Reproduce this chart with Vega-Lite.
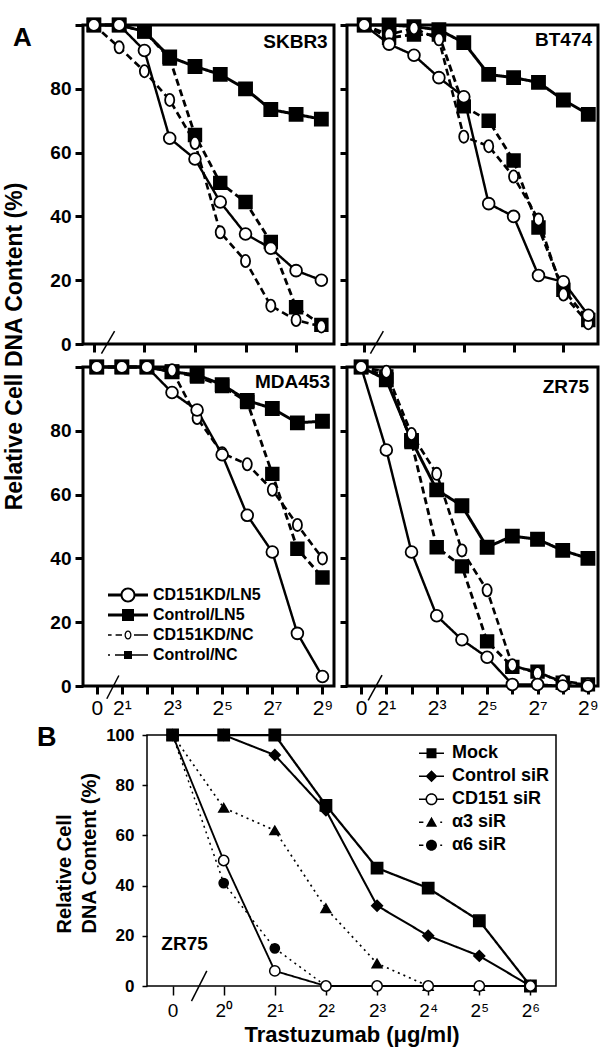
{
  "$schema": "https://vega.github.io/schema/vega-lite/v6.json",
  "autosize": {"type": "pad"},
  "padding": {"left": 2, "top": 13, "right": 5, "bottom": 5},
  "background": "white",
  "config": {
    "font": "Liberation Sans",
    "view": {"stroke": "black", "strokeWidth": 3},
    "axis": {"grid": false, "domain": false, "tickColor": "black", "labelColor": "black", "titleColor": "black", "labelFont": "Liberation Sans", "titleFont": "Liberation Sans"},
    "legend": {"labelFont": "Liberation Sans", "labelColor": "black", "padding": 0, "rowPadding": 0, "titlePadding": 0, "symbolStrokeWidth": 0, "symbolOpacity": 1}
  },
  "datasets": {
    "a": [
      {"cell": "SKBR3", "series": "Control/LN5", "i": 0, "pct": 100}, {"cell": "SKBR3", "series": "Control/LN5", "i": 1, "pct": 100}, {"cell": "SKBR3", "series": "Control/LN5", "i": 2, "pct": 98}, {"cell": "SKBR3", "series": "Control/LN5", "i": 3, "pct": 90}, {"cell": "SKBR3", "series": "Control/LN5", "i": 4, "pct": 87}, {"cell": "SKBR3", "series": "Control/LN5", "i": 5, "pct": 84.5}, {"cell": "SKBR3", "series": "Control/LN5", "i": 6, "pct": 80}, {"cell": "SKBR3", "series": "Control/LN5", "i": 7, "pct": 73.5}, {"cell": "SKBR3", "series": "Control/LN5", "i": 8, "pct": 72}, {"cell": "SKBR3", "series": "Control/LN5", "i": 9, "pct": 70.5},
      {"cell": "SKBR3", "series": "Control/NC", "i": 0, "pct": 100}, {"cell": "SKBR3", "series": "Control/NC", "i": 1, "pct": 100}, {"cell": "SKBR3", "series": "Control/NC", "i": 2, "pct": 98}, {"cell": "SKBR3", "series": "Control/NC", "i": 3, "pct": 89.5}, {"cell": "SKBR3", "series": "Control/NC", "i": 4, "pct": 65.5}, {"cell": "SKBR3", "series": "Control/NC", "i": 5, "pct": 50.5}, {"cell": "SKBR3", "series": "Control/NC", "i": 6, "pct": 44.5}, {"cell": "SKBR3", "series": "Control/NC", "i": 7, "pct": 32}, {"cell": "SKBR3", "series": "Control/NC", "i": 8, "pct": 11.5}, {"cell": "SKBR3", "series": "Control/NC", "i": 9, "pct": 6},
      {"cell": "SKBR3", "series": "CD151KD/NC", "i": 0, "pct": 100}, {"cell": "SKBR3", "series": "CD151KD/NC", "i": 1, "pct": 93}, {"cell": "SKBR3", "series": "CD151KD/NC", "i": 2, "pct": 85.5}, {"cell": "SKBR3", "series": "CD151KD/NC", "i": 3, "pct": 76.5}, {"cell": "SKBR3", "series": "CD151KD/NC", "i": 4, "pct": 63}, {"cell": "SKBR3", "series": "CD151KD/NC", "i": 5, "pct": 35}, {"cell": "SKBR3", "series": "CD151KD/NC", "i": 6, "pct": 26}, {"cell": "SKBR3", "series": "CD151KD/NC", "i": 7, "pct": 12}, {"cell": "SKBR3", "series": "CD151KD/NC", "i": 8, "pct": 7.5}, {"cell": "SKBR3", "series": "CD151KD/NC", "i": 9, "pct": 5.5},
      {"cell": "SKBR3", "series": "CD151KD/LN5", "i": 0, "pct": 100}, {"cell": "SKBR3", "series": "CD151KD/LN5", "i": 1, "pct": 100}, {"cell": "SKBR3", "series": "CD151KD/LN5", "i": 2, "pct": 92}, {"cell": "SKBR3", "series": "CD151KD/LN5", "i": 3, "pct": 64.5}, {"cell": "SKBR3", "series": "CD151KD/LN5", "i": 4, "pct": 58}, {"cell": "SKBR3", "series": "CD151KD/LN5", "i": 5, "pct": 44.5}, {"cell": "SKBR3", "series": "CD151KD/LN5", "i": 6, "pct": 34.5}, {"cell": "SKBR3", "series": "CD151KD/LN5", "i": 7, "pct": 30}, {"cell": "SKBR3", "series": "CD151KD/LN5", "i": 8, "pct": 23}, {"cell": "SKBR3", "series": "CD151KD/LN5", "i": 9, "pct": 20},

      {"cell": "BT474", "series": "Control/LN5", "i": 0, "pct": 100}, {"cell": "BT474", "series": "Control/LN5", "i": 1, "pct": 100}, {"cell": "BT474", "series": "Control/LN5", "i": 2, "pct": 99.5}, {"cell": "BT474", "series": "Control/LN5", "i": 3, "pct": 98.5}, {"cell": "BT474", "series": "Control/LN5", "i": 4, "pct": 94.5}, {"cell": "BT474", "series": "Control/LN5", "i": 5, "pct": 84.5}, {"cell": "BT474", "series": "Control/LN5", "i": 6, "pct": 83.5}, {"cell": "BT474", "series": "Control/LN5", "i": 7, "pct": 82}, {"cell": "BT474", "series": "Control/LN5", "i": 8, "pct": 76.5}, {"cell": "BT474", "series": "Control/LN5", "i": 9, "pct": 72},
      {"cell": "BT474", "series": "Control/NC", "i": 0, "pct": 100}, {"cell": "BT474", "series": "Control/NC", "i": 1, "pct": 96}, {"cell": "BT474", "series": "Control/NC", "i": 2, "pct": 97}, {"cell": "BT474", "series": "Control/NC", "i": 3, "pct": 97}, {"cell": "BT474", "series": "Control/NC", "i": 4, "pct": 74.5}, {"cell": "BT474", "series": "Control/NC", "i": 5, "pct": 70}, {"cell": "BT474", "series": "Control/NC", "i": 6, "pct": 57.5}, {"cell": "BT474", "series": "Control/NC", "i": 7, "pct": 36.5}, {"cell": "BT474", "series": "Control/NC", "i": 8, "pct": 17}, {"cell": "BT474", "series": "Control/NC", "i": 9, "pct": 7.5},
      {"cell": "BT474", "series": "CD151KD/NC", "i": 0, "pct": 100}, {"cell": "BT474", "series": "CD151KD/NC", "i": 1, "pct": 97}, {"cell": "BT474", "series": "CD151KD/NC", "i": 2, "pct": 99}, {"cell": "BT474", "series": "CD151KD/NC", "i": 3, "pct": 95.5}, {"cell": "BT474", "series": "CD151KD/NC", "i": 4, "pct": 65}, {"cell": "BT474", "series": "CD151KD/NC", "i": 5, "pct": 62}, {"cell": "BT474", "series": "CD151KD/NC", "i": 6, "pct": 52.5}, {"cell": "BT474", "series": "CD151KD/NC", "i": 7, "pct": 39}, {"cell": "BT474", "series": "CD151KD/NC", "i": 8, "pct": 15.5}, {"cell": "BT474", "series": "CD151KD/NC", "i": 9, "pct": 6.5},
      {"cell": "BT474", "series": "CD151KD/LN5", "i": 0, "pct": 100}, {"cell": "BT474", "series": "CD151KD/LN5", "i": 1, "pct": 94}, {"cell": "BT474", "series": "CD151KD/LN5", "i": 2, "pct": 90.5}, {"cell": "BT474", "series": "CD151KD/LN5", "i": 3, "pct": 83.5}, {"cell": "BT474", "series": "CD151KD/LN5", "i": 4, "pct": 77.5}, {"cell": "BT474", "series": "CD151KD/LN5", "i": 5, "pct": 44}, {"cell": "BT474", "series": "CD151KD/LN5", "i": 6, "pct": 40}, {"cell": "BT474", "series": "CD151KD/LN5", "i": 7, "pct": 21.5}, {"cell": "BT474", "series": "CD151KD/LN5", "i": 8, "pct": 19.5}, {"cell": "BT474", "series": "CD151KD/LN5", "i": 9, "pct": 9},

      {"cell": "MDA453", "series": "Control/LN5", "i": 0, "pct": 100}, {"cell": "MDA453", "series": "Control/LN5", "i": 1, "pct": 100}, {"cell": "MDA453", "series": "Control/LN5", "i": 2, "pct": 100}, {"cell": "MDA453", "series": "Control/LN5", "i": 3, "pct": 98.5}, {"cell": "MDA453", "series": "Control/LN5", "i": 4, "pct": 97.5}, {"cell": "MDA453", "series": "Control/LN5", "i": 5, "pct": 94.5}, {"cell": "MDA453", "series": "Control/LN5", "i": 6, "pct": 89.5}, {"cell": "MDA453", "series": "Control/LN5", "i": 7, "pct": 87}, {"cell": "MDA453", "series": "Control/LN5", "i": 8, "pct": 82.5}, {"cell": "MDA453", "series": "Control/LN5", "i": 9, "pct": 83},
      {"cell": "MDA453", "series": "Control/NC", "i": 0, "pct": 100}, {"cell": "MDA453", "series": "Control/NC", "i": 1, "pct": 100}, {"cell": "MDA453", "series": "Control/NC", "i": 2, "pct": 100}, {"cell": "MDA453", "series": "Control/NC", "i": 3, "pct": 98.5}, {"cell": "MDA453", "series": "Control/NC", "i": 4, "pct": 97}, {"cell": "MDA453", "series": "Control/NC", "i": 5, "pct": 94}, {"cell": "MDA453", "series": "Control/NC", "i": 6, "pct": 89}, {"cell": "MDA453", "series": "Control/NC", "i": 7, "pct": 66.5}, {"cell": "MDA453", "series": "Control/NC", "i": 8, "pct": 43}, {"cell": "MDA453", "series": "Control/NC", "i": 9, "pct": 34},
      {"cell": "MDA453", "series": "CD151KD/NC", "i": 0, "pct": 100}, {"cell": "MDA453", "series": "CD151KD/NC", "i": 1, "pct": 100}, {"cell": "MDA453", "series": "CD151KD/NC", "i": 2, "pct": 100}, {"cell": "MDA453", "series": "CD151KD/NC", "i": 3, "pct": 99}, {"cell": "MDA453", "series": "CD151KD/NC", "i": 4, "pct": 84}, {"cell": "MDA453", "series": "CD151KD/NC", "i": 5, "pct": 73}, {"cell": "MDA453", "series": "CD151KD/NC", "i": 6, "pct": 69.5}, {"cell": "MDA453", "series": "CD151KD/NC", "i": 7, "pct": 61.5}, {"cell": "MDA453", "series": "CD151KD/NC", "i": 8, "pct": 50.5}, {"cell": "MDA453", "series": "CD151KD/NC", "i": 9, "pct": 40},
      {"cell": "MDA453", "series": "CD151KD/LN5", "i": 0, "pct": 100}, {"cell": "MDA453", "series": "CD151KD/LN5", "i": 1, "pct": 100}, {"cell": "MDA453", "series": "CD151KD/LN5", "i": 2, "pct": 100}, {"cell": "MDA453", "series": "CD151KD/LN5", "i": 3, "pct": 92}, {"cell": "MDA453", "series": "CD151KD/LN5", "i": 4, "pct": 86.5}, {"cell": "MDA453", "series": "CD151KD/LN5", "i": 5, "pct": 72.5}, {"cell": "MDA453", "series": "CD151KD/LN5", "i": 6, "pct": 53.5}, {"cell": "MDA453", "series": "CD151KD/LN5", "i": 7, "pct": 42}, {"cell": "MDA453", "series": "CD151KD/LN5", "i": 8, "pct": 16.5}, {"cell": "MDA453", "series": "CD151KD/LN5", "i": 9, "pct": 3},

      {"cell": "ZR75", "series": "Control/LN5", "i": 0, "pct": 100}, {"cell": "ZR75", "series": "Control/LN5", "i": 1, "pct": 96}, {"cell": "ZR75", "series": "Control/LN5", "i": 2, "pct": 77}, {"cell": "ZR75", "series": "Control/LN5", "i": 3, "pct": 61.5}, {"cell": "ZR75", "series": "Control/LN5", "i": 4, "pct": 56.5}, {"cell": "ZR75", "series": "Control/LN5", "i": 5, "pct": 43.5}, {"cell": "ZR75", "series": "Control/LN5", "i": 6, "pct": 47}, {"cell": "ZR75", "series": "Control/LN5", "i": 7, "pct": 46}, {"cell": "ZR75", "series": "Control/LN5", "i": 8, "pct": 42.5}, {"cell": "ZR75", "series": "Control/LN5", "i": 9, "pct": 40},
      {"cell": "ZR75", "series": "Control/NC", "i": 0, "pct": 100}, {"cell": "ZR75", "series": "Control/NC", "i": 1, "pct": 97}, {"cell": "ZR75", "series": "Control/NC", "i": 2, "pct": 76.5}, {"cell": "ZR75", "series": "Control/NC", "i": 3, "pct": 43.5}, {"cell": "ZR75", "series": "Control/NC", "i": 4, "pct": 37.5}, {"cell": "ZR75", "series": "Control/NC", "i": 5, "pct": 14}, {"cell": "ZR75", "series": "Control/NC", "i": 6, "pct": 6}, {"cell": "ZR75", "series": "Control/NC", "i": 7, "pct": 4.5}, {"cell": "ZR75", "series": "Control/NC", "i": 8, "pct": 1}, {"cell": "ZR75", "series": "Control/NC", "i": 9, "pct": 0.5},
      {"cell": "ZR75", "series": "CD151KD/NC", "i": 0, "pct": 100}, {"cell": "ZR75", "series": "CD151KD/NC", "i": 1, "pct": 98.5}, {"cell": "ZR75", "series": "CD151KD/NC", "i": 2, "pct": 79}, {"cell": "ZR75", "series": "CD151KD/NC", "i": 3, "pct": 66.5}, {"cell": "ZR75", "series": "CD151KD/NC", "i": 4, "pct": 42.5}, {"cell": "ZR75", "series": "CD151KD/NC", "i": 5, "pct": 30}, {"cell": "ZR75", "series": "CD151KD/NC", "i": 6, "pct": 6.5}, {"cell": "ZR75", "series": "CD151KD/NC", "i": 7, "pct": 4}, {"cell": "ZR75", "series": "CD151KD/NC", "i": 8, "pct": 1.5}, {"cell": "ZR75", "series": "CD151KD/NC", "i": 9, "pct": 0.5},
      {"cell": "ZR75", "series": "CD151KD/LN5", "i": 0, "pct": 100}, {"cell": "ZR75", "series": "CD151KD/LN5", "i": 1, "pct": 74}, {"cell": "ZR75", "series": "CD151KD/LN5", "i": 2, "pct": 42}, {"cell": "ZR75", "series": "CD151KD/LN5", "i": 3, "pct": 22}, {"cell": "ZR75", "series": "CD151KD/LN5", "i": 4, "pct": 14.5}, {"cell": "ZR75", "series": "CD151KD/LN5", "i": 5, "pct": 9}, {"cell": "ZR75", "series": "CD151KD/LN5", "i": 6, "pct": 0.5}, {"cell": "ZR75", "series": "CD151KD/LN5", "i": 7, "pct": 0.5}, {"cell": "ZR75", "series": "CD151KD/LN5", "i": 8, "pct": 0}, {"cell": "ZR75", "series": "CD151KD/LN5", "i": 9, "pct": 0}
    ],
    "b": [
      {"series": "Mock", "i": 0, "pct": 100}, {"series": "Mock", "i": 1, "pct": 100}, {"series": "Mock", "i": 2, "pct": 100}, {"series": "Mock", "i": 3, "pct": 72}, {"series": "Mock", "i": 4, "pct": 47}, {"series": "Mock", "i": 5, "pct": 39}, {"series": "Mock", "i": 6, "pct": 26}, {"series": "Mock", "i": 7, "pct": 0},
      {"series": "Control siR", "i": 0, "pct": 100}, {"series": "Control siR", "i": 1, "pct": 100}, {"series": "Control siR", "i": 2, "pct": 92}, {"series": "Control siR", "i": 3, "pct": 70}, {"series": "Control siR", "i": 4, "pct": 32}, {"series": "Control siR", "i": 5, "pct": 20}, {"series": "Control siR", "i": 6, "pct": 12}, {"series": "Control siR", "i": 7, "pct": 0},
      {"series": "α3 siR", "i": 0, "pct": 100}, {"series": "α3 siR", "i": 1, "pct": 71}, {"series": "α3 siR", "i": 2, "pct": 62}, {"series": "α3 siR", "i": 3, "pct": 31}, {"series": "α3 siR", "i": 4, "pct": 9}, {"series": "α3 siR", "i": 5, "pct": 0}, {"series": "α3 siR", "i": 6, "pct": 0}, {"series": "α3 siR", "i": 7, "pct": 0},
      {"series": "α6 siR", "i": 3, "pct": 0},
      {"series": "CD151 siR", "i": 0, "pct": 100}, {"series": "CD151 siR", "i": 1, "pct": 50}, {"series": "CD151 siR", "i": 2, "pct": 6}, {"series": "CD151 siR", "i": 3, "pct": 0}, {"series": "CD151 siR", "i": 4, "pct": 0}, {"series": "CD151 siR", "i": 5, "pct": 0}, {"series": "CD151 siR", "i": 6, "pct": 0}, {"series": "CD151 siR", "i": 7, "pct": 0},
      {"series": "α6 siR", "i": 0, "pct": 100}, {"series": "α6 siR", "i": 1, "pct": 41}, {"series": "α6 siR", "i": 2, "pct": 15}
    ]
  },
  "spacing": 3,
  "resolve": {"scale": {"shape": "independent"}, "legend": {"shape": "independent"}},
  "vconcat": [
    {
      "columns": 2,
      "bounds": "flush",
      "spacing": {"row": 23, "column": 13},
      "resolve": {"scale": {"shape": "independent"}, "legend": {"shape": "independent"}},
      "concat": [
        {
          "width": 251, "height": 319,
          "layer": [
            {"data": {"name": "a"}, "transform": [{"filter": "datum.cell === 'SKBR3'"}],
             "mark": {"type": "line", "color": "black", "clip": false},
             "encoding": {
               "x": {"field": "i", "type": "quantitative", "scale": {"domain": [-0.43, 9.5], "nice": false, "zero": false},
                     "axis": {"values": [0,1,2,3,4,5,6,7,8,9], "tickSize": 8, "tickWidth": 3, "labels": false, "title": null}},
               "y": {"field": "pct", "type": "quantitative", "scale": {"domain": [0, 100], "nice": false},
                     "axis": {"values": [0,10,20,30,40,50,60,70,80,90,100], "tickSize": 8, "tickWidth": 3, "labelExpr": "datum.value % 20 === 0 && datum.value < 100 ? datum.value : ''", "labelFontSize": 19, "labelFontWeight": "bold", "labelPadding": 4,
                              "title": "Relative Cell DNA Content (%)", "titleFontSize": 23, "titleFontWeight": "bold", "titleAlign": "center", "titleY": 321, "titlePadding": 23}},
               "strokeDash": {"field": "series", "type": "nominal", "legend": null, "scale": {"domain": ["Control/LN5","Control/NC","CD151KD/NC","CD151KD/LN5","Mock","Control siR","CD151 siR","α3 siR","α6 siR"], "range": [[1,0],[7,4],[7,4],[1,0],[1,0],[1,0],[1,0],[2,4],[2,4]]}},
               "strokeWidth": {"field": "series", "type": "nominal", "legend": null, "scale": {"domain": ["Control/LN5","Control/NC","CD151KD/NC","CD151KD/LN5","Mock","Control siR","CD151 siR","α3 siR","α6 siR"], "range": [3,1.5,1.5,3,1.5,1.5,1.5,2,2]}}
             }},
            {"data": {"name": "a"}, "transform": [{"filter": "datum.cell === 'SKBR3'"}],
             "mark": {"type": "point", "filled": true, "opacity": 1, "stroke": "black", "strokeWidth": 1.8, "clip": false},
             "encoding": {
               "x": {"field": "i", "type": "quantitative"},
               "y": {"field": "pct", "type": "quantitative"},
               "shape": {"field": "series", "type": "nominal", "legend": null, "scale": {"domain": ["Control/LN5","Control/NC","CD151KD/NC","CD151KD/LN5","Mock","Control siR","CD151 siR","α3 siR","α6 siR"], "range": ["square","square","M0.75,0A0.75,1 0 1,1 -0.75,0A0.75,1 0 1,1 0.75,0Z","circle","square","diamond","circle","triangle-up","circle"]}},
               "fill": {"field": "series", "type": "nominal", "legend": null, "scale": {"domain": ["Control/LN5","Control/NC","CD151KD/NC","CD151KD/LN5","Mock","Control siR","CD151 siR","α3 siR","α6 siR"], "range": ["black","black","white","white","black","black","white","black","black"]}},
               "size": {"field": "series", "type": "nominal", "legend": null, "scale": {"domain": ["Control/LN5","Control/NC","CD151KD/NC","CD151KD/LN5","Mock","Control siR","CD151 siR","α3 siR","α6 siR"], "range": [170,85,81,256,121,150,150,170,140]}}
             }},
            {"data": {"values": [{}]}, "mark": {"type": "rule", "color": "black", "strokeWidth": 1.5, "clip": false},
             "encoding": {"x": {"datum": 0.3}, "x2": {"datum": 0.82}, "y": {"datum": -3}, "y2": {"datum": 4}}},
            {"data": {"values": [{"label": "SKBR3"}]}, "mark": {"type": "text", "align": "right", "baseline": "alphabetic", "fontSize": 19, "fontWeight": "bold", "font": "Liberation Sans", "color": "black"},
             "encoding": {"x": {"datum": 9.25}, "y": {"datum": 92.8}, "text": {"field": "label"}}},
            {"data": {"values": [{"label": "A"}]}, "mark": {"type": "text", "align": "left", "baseline": "alphabetic", "fontSize": 26, "fontWeight": "bold", "font": "Liberation Sans", "color": "black", "clip": false},
             "encoding": {"x": {"datum": -3.2}, "y": {"datum": 93.3}, "text": {"field": "label"}}}
          ]
        },
        {
          "width": 251, "height": 319,
          "layer": [
            {"data": {"name": "a"}, "transform": [{"filter": "datum.cell === 'BT474'"}],
             "mark": {"type": "line", "color": "black", "clip": false},
             "encoding": {
               "x": {"field": "i", "type": "quantitative", "scale": {"domain": [-0.69, 9.39], "nice": false, "zero": false},
                     "axis": {"values": [0,1,2,3,4,5,6,7,8,9], "tickSize": 8, "tickWidth": 3, "labels": false, "title": null}},
               "y": {"field": "pct", "type": "quantitative", "scale": {"domain": [0, 100], "nice": false},
                     "axis": {"values": [0,10,20,30,40,50,60,70,80,90,100], "tickSize": 7, "tickWidth": 3, "labels": false, "title": null}},
               "strokeDash": {"field": "series", "type": "nominal", "legend": null, "scale": {"domain": ["Control/LN5","Control/NC","CD151KD/NC","CD151KD/LN5","Mock","Control siR","CD151 siR","α3 siR","α6 siR"], "range": [[1,0],[7,4],[7,4],[1,0],[1,0],[1,0],[1,0],[2,4],[2,4]]}},
               "strokeWidth": {"field": "series", "type": "nominal", "legend": null, "scale": {"domain": ["Control/LN5","Control/NC","CD151KD/NC","CD151KD/LN5","Mock","Control siR","CD151 siR","α3 siR","α6 siR"], "range": [3,1.5,1.5,3,1.5,1.5,1.5,2,2]}}
             }},
            {"data": {"name": "a"}, "transform": [{"filter": "datum.cell === 'BT474'"}],
             "mark": {"type": "point", "filled": true, "opacity": 1, "stroke": "black", "strokeWidth": 1.8, "clip": false},
             "encoding": {
               "x": {"field": "i", "type": "quantitative"},
               "y": {"field": "pct", "type": "quantitative"},
               "shape": {"field": "series", "type": "nominal", "legend": null, "scale": {"domain": ["Control/LN5","Control/NC","CD151KD/NC","CD151KD/LN5","Mock","Control siR","CD151 siR","α3 siR","α6 siR"], "range": ["square","square","M0.75,0A0.75,1 0 1,1 -0.75,0A0.75,1 0 1,1 0.75,0Z","circle","square","diamond","circle","triangle-up","circle"]}},
               "fill": {"field": "series", "type": "nominal", "legend": null, "scale": {"domain": ["Control/LN5","Control/NC","CD151KD/NC","CD151KD/LN5","Mock","Control siR","CD151 siR","α3 siR","α6 siR"], "range": ["black","black","white","white","black","black","white","black","black"]}},
               "size": {"field": "series", "type": "nominal", "legend": null, "scale": {"domain": ["Control/LN5","Control/NC","CD151KD/NC","CD151KD/LN5","Mock","Control siR","CD151 siR","α3 siR","α6 siR"], "range": [170,85,81,256,121,150,150,170,140]}}
             }},
            {"data": {"values": [{}]}, "mark": {"type": "rule", "color": "black", "strokeWidth": 1.5, "clip": false},
             "encoding": {"x": {"datum": 0.25}, "x2": {"datum": 0.77}, "y": {"datum": -3}, "y2": {"datum": 4}}},
            {"data": {"values": [{"label": "BT474"}]}, "mark": {"type": "text", "align": "right", "baseline": "alphabetic", "fontSize": 19, "fontWeight": "bold", "font": "Liberation Sans", "color": "black"},
             "encoding": {"x": {"datum": 9.15}, "y": {"datum": 93.3}, "text": {"field": "label"}}}
          ]
        },
        {
          "width": 251, "height": 319,
          "resolve": {"axis": {"x": "independent"}, "scale": {"shape": "independent"}, "legend": {"shape": "independent"}},
          "layer": [
            {"data": {"name": "a"}, "transform": [{"filter": "datum.cell === 'MDA453'"}],
             "mark": {"type": "line", "color": "black", "clip": false},
             "encoding": {
               "x": {"field": "i", "type": "quantitative", "scale": {"domain": [-0.55, 9.46], "nice": false, "zero": false},
                     "axis": {"values": [0,1,3,5,7,9], "tickSize": 8, "tickWidth": 3, "labelExpr": "['0','2¹','2²','2³','2⁴','2⁵','2⁶','2⁷','2⁸','2⁹'][datum.value]", "labelFontSize": 21, "labelFontWeight": "normal", "labelPadding": 3, "labelFlush": false, "labelOverlap": false, "labelBound": false, "title": null}},
               "y": {"field": "pct", "type": "quantitative", "scale": {"domain": [0, 100], "nice": false},
                     "axis": {"values": [0,10,20,30,40,50,60,70,80,90,100], "tickSize": 8, "tickWidth": 3, "labelExpr": "datum.value % 20 === 0 && datum.value < 100 ? datum.value : ''", "labelFontSize": 19, "labelFontWeight": "bold", "labelPadding": 4, "title": null}},
               "strokeDash": {"field": "series", "type": "nominal", "legend": null, "scale": {"domain": ["Control/LN5","Control/NC","CD151KD/NC","CD151KD/LN5","Mock","Control siR","CD151 siR","α3 siR","α6 siR"], "range": [[1,0],[7,4],[7,4],[1,0],[1,0],[1,0],[1,0],[2,4],[2,4]]}},
               "strokeWidth": {"field": "series", "type": "nominal", "legend": null, "scale": {"domain": ["Control/LN5","Control/NC","CD151KD/NC","CD151KD/LN5","Mock","Control siR","CD151 siR","α3 siR","α6 siR"], "range": [3,1.5,1.5,3,1.5,1.5,1.5,2,2]}}
             }},
            {"data": {"name": "a"}, "transform": [{"filter": "datum.cell === 'MDA453'"}],
             "mark": {"type": "point", "filled": true, "opacity": 1, "stroke": "black", "strokeWidth": 1.8, "clip": false},
             "encoding": {
               "x": {"field": "i", "type": "quantitative", "axis": null},
               "y": {"field": "pct", "type": "quantitative"},
               "shape": {"field": "series", "type": "nominal", "legend": null, "scale": {"domain": ["Control/LN5","Control/NC","CD151KD/NC","CD151KD/LN5","Mock","Control siR","CD151 siR","α3 siR","α6 siR"], "range": ["square","square","M0.75,0A0.75,1 0 1,1 -0.75,0A0.75,1 0 1,1 0.75,0Z","circle","square","diamond","circle","triangle-up","circle"]}},
               "fill": {"field": "series", "type": "nominal", "legend": null, "scale": {"domain": ["Control/LN5","Control/NC","CD151KD/NC","CD151KD/LN5","Mock","Control siR","CD151 siR","α3 siR","α6 siR"], "range": ["black","black","white","white","black","black","white","black","black"]}},
               "size": {"field": "series", "type": "nominal", "legend": null, "scale": {"domain": ["Control/LN5","Control/NC","CD151KD/NC","CD151KD/LN5","Mock","Control siR","CD151 siR","α3 siR","α6 siR"], "range": [170,85,81,256,121,150,150,170,140]}}
             }},
            {"data": {"values": [{}]}, "mark": {"type": "rule", "color": "black", "strokeWidth": 1.5, "clip": false},
             "encoding": {"x": {"datum": 0.4, "axis": {"orient": "bottom", "values": [2,4,6,8], "tickSize": 8, "tickWidth": 3, "labels": false, "title": null}}, "x2": {"datum": 0.88}, "y": {"datum": -4}, "y2": {"datum": 3.3}}},
            {"data": {"values": [{"label": "MDA453"}]}, "mark": {"type": "text", "align": "right", "baseline": "alphabetic", "fontSize": 19, "fontWeight": "bold", "font": "Liberation Sans", "color": "black"},
             "encoding": {"x": {"datum": 9.3, "axis": null}, "y": {"datum": 93.3}, "text": {"field": "label"}}},
            {"data": {"values": []},
             "mark": {"type": "point", "filled": true, "color": "black", "opacity": 1, "strokeWidth": 0},
             "encoding": {
               "x": {"field": "i", "type": "quantitative", "axis": null},
               "y": {"field": "pct", "type": "quantitative"},
               "shape": {"field": "series", "type": "nominal",
                         "scale": {"domain": ["CD151KD/LN5","Control/LN5","CD151KD/NC","Control/NC"],
                                   "range": [
                                     "M-1,-0.075H-0.36V0.075H-1Z M0.36,-0.075H1V0.075H0.36Z M0.375,0A0.375,0.375 0 1,1 -0.375,0A0.375,0.375 0 1,1 0.375,0Z M0.275,0A0.275,0.275 0 1,0 -0.275,0A0.275,0.275 0 1,0 0.275,0Z",
                                     "M-1,-0.075H1V0.075H-1Z M-0.3,-0.3H0.3V0.3H-0.3Z",
                                     "M-1,-0.0375H-0.82V0.0375H-1Z M-0.62,-0.0375H-0.3V0.0375H-0.62Z M0.3,-0.0375H1V0.0375H0.3Z M0.175,0A0.175,0.225 0 1,1 -0.175,0A0.175,0.225 0 1,1 0.175,0Z M0.11,0A0.11,0.16 0 1,0 -0.11,0A0.11,0.16 0 1,0 0.11,0Z",
                                     "M-1,-0.0375H-0.9V0.0375H-1Z M-0.65,-0.0375H-0.2V0.0375H-0.65Z M-0.2,-0.2H0.2V0.2H-0.2Z M0.2,-0.0375H1V0.0375H0.2Z"
                                   ]},
                         "legend": {"orient": "none", "legendX": 25, "legendY": 218, "title": null,
                                    "symbolSize": 1600, "clipHeight": 20, "rowPadding": 0, "padding": 0,
                                    "symbolStrokeWidth": 0, "symbolFillColor": "black", "symbolOpacity": 1,
                                    "labelFontSize": 16, "labelFontWeight": "bold", "labelOffset": 5, "labelColor": "black"}}
             }}
          ]
        },
        {
          "width": 251, "height": 319,
          "resolve": {"axis": {"x": "independent"}},
          "layer": [
            {"data": {"name": "a"}, "transform": [{"filter": "datum.cell === 'ZR75'"}],
             "mark": {"type": "line", "color": "black", "clip": false},
             "encoding": {
               "x": {"field": "i", "type": "quantitative", "scale": {"domain": [-0.56, 9.4], "nice": false, "zero": false},
                     "axis": {"values": [0,1,3,5,7,9], "tickSize": 8, "tickWidth": 3, "labelExpr": "['0','2¹','2²','2³','2⁴','2⁵','2⁶','2⁷','2⁸','2⁹'][datum.value]", "labelFontSize": 21, "labelFontWeight": "normal", "labelPadding": 3, "labelFlush": false, "labelOverlap": false, "labelBound": false, "title": null}},
               "y": {"field": "pct", "type": "quantitative", "scale": {"domain": [0, 100], "nice": false},
                     "axis": {"values": [0,10,20,30,40,50,60,70,80,90,100], "tickSize": 7, "tickWidth": 3, "labels": false, "title": null}},
               "strokeDash": {"field": "series", "type": "nominal", "legend": null, "scale": {"domain": ["Control/LN5","Control/NC","CD151KD/NC","CD151KD/LN5","Mock","Control siR","CD151 siR","α3 siR","α6 siR"], "range": [[1,0],[7,4],[7,4],[1,0],[1,0],[1,0],[1,0],[2,4],[2,4]]}},
               "strokeWidth": {"field": "series", "type": "nominal", "legend": null, "scale": {"domain": ["Control/LN5","Control/NC","CD151KD/NC","CD151KD/LN5","Mock","Control siR","CD151 siR","α3 siR","α6 siR"], "range": [3,1.5,1.5,3,1.5,1.5,1.5,2,2]}}
             }},
            {"data": {"name": "a"}, "transform": [{"filter": "datum.cell === 'ZR75'"}],
             "mark": {"type": "point", "filled": true, "opacity": 1, "stroke": "black", "strokeWidth": 1.8, "clip": false},
             "encoding": {
               "x": {"field": "i", "type": "quantitative", "axis": null},
               "y": {"field": "pct", "type": "quantitative"},
               "shape": {"field": "series", "type": "nominal", "legend": null, "scale": {"domain": ["Control/LN5","Control/NC","CD151KD/NC","CD151KD/LN5","Mock","Control siR","CD151 siR","α3 siR","α6 siR"], "range": ["square","square","M0.75,0A0.75,1 0 1,1 -0.75,0A0.75,1 0 1,1 0.75,0Z","circle","square","diamond","circle","triangle-up","circle"]}},
               "fill": {"field": "series", "type": "nominal", "legend": null, "scale": {"domain": ["Control/LN5","Control/NC","CD151KD/NC","CD151KD/LN5","Mock","Control siR","CD151 siR","α3 siR","α6 siR"], "range": ["black","black","white","white","black","black","white","black","black"]}},
               "size": {"field": "series", "type": "nominal", "legend": null, "scale": {"domain": ["Control/LN5","Control/NC","CD151KD/NC","CD151KD/LN5","Mock","Control siR","CD151 siR","α3 siR","α6 siR"], "range": [170,85,81,256,121,150,150,170,140]}}
             }},
            {"data": {"values": [{}]}, "mark": {"type": "rule", "color": "black", "strokeWidth": 1.5, "clip": false},
             "encoding": {"x": {"datum": 0.28, "axis": {"orient": "bottom", "values": [2,4,6,8], "tickSize": 8, "tickWidth": 3, "labels": false, "title": null}}, "x2": {"datum": 0.83}, "y": {"datum": -4.5}, "y2": {"datum": 3.4}}},
            {"data": {"values": [{"label": "ZR75"}]}, "mark": {"type": "text", "align": "right", "baseline": "alphabetic", "fontSize": 19, "fontWeight": "bold", "font": "Liberation Sans", "color": "black"},
             "encoding": {"x": {"datum": 9.05, "axis": null}, "y": {"datum": 91.8}, "text": {"field": "label"}}}
          ]
        }
      ]
    },
    {
      "bounds": "flush",
      "spacing": 10,
      "resolve": {"scale": {"shape": "independent"}, "legend": {"shape": "independent"}},
      "hconcat": [
        {"width": 54, "height": 251, "data": {"values": []}, "mark": {"type": "point"}, "view": {"stroke": null}},
        {
          "width": 409, "height": 251,
          "view": {"stroke": "black", "strokeWidth": 1.5},
          "resolve": {"scale": {"shape": "independent"}, "legend": {"shape": "independent"}},
          "layer": [
            {"data": {"name": "b"},
             "mark": {"type": "line", "color": "black", "clip": false},
             "encoding": {
               "x": {"field": "i", "type": "quantitative", "scale": {"domain": [-0.5, 7.5], "nice": false, "zero": false},
                     "axis": {"values": [0,1,2,3,4,5,6,7], "tickSize": 9, "tickWidth": 1.5, "labelExpr": "['0','2⁰','2¹','2²','2³','2⁴','2⁵','2⁶'][datum.value]", "labelFontSize": 19, "labelFontWeight": "normal", "labelPadding": 6, "labelFlush": false, "labelOverlap": false,
                              "title": "Trastuzumab (μg/ml)", "titleFontSize": 22, "titleFontWeight": "bold", "titlePadding": 4}},
               "y": {"field": "pct", "type": "quantitative", "scale": {"domain": [0, 100], "nice": false},
                     "axis": {"values": [0,20,40,60,80,100], "tickSize": 5, "tickWidth": 1.5, "labelFontSize": 17, "labelFontWeight": "bold", "labelPadding": 8,
                              "title": ["Relative Cell", "DNA Content (%)"], "titleFontSize": 20, "titleFontWeight": "bold", "titleLineHeight": 25, "titlePadding": 6, "titleAlign": "left", "titleY": 198}},
               "strokeDash": {"field": "series", "type": "nominal", "legend": null, "scale": {"domain": ["Control/LN5","Control/NC","CD151KD/NC","CD151KD/LN5","Mock","Control siR","CD151 siR","α3 siR","α6 siR"], "range": [[1,0],[7,4],[7,4],[1,0],[1,0],[1,0],[1,0],[2,4],[2,4]]}},
               "strokeWidth": {"field": "series", "type": "nominal", "legend": null, "scale": {"domain": ["Control/LN5","Control/NC","CD151KD/NC","CD151KD/LN5","Mock","Control siR","CD151 siR","α3 siR","α6 siR"], "range": [3,1.5,1.5,3,1.5,1.5,1.5,2,2]}}
             }},
            {"data": {"name": "b"},
             "mark": {"type": "point", "filled": true, "opacity": 1, "stroke": "black", "strokeWidth": 1.5, "clip": false},
             "encoding": {
               "x": {"field": "i", "type": "quantitative"},
               "y": {"field": "pct", "type": "quantitative"},
               "shape": {"field": "series", "type": "nominal", "legend": null, "scale": {"domain": ["Control/LN5","Control/NC","CD151KD/NC","CD151KD/LN5","Mock","Control siR","CD151 siR","α3 siR","α6 siR"], "range": ["square","square","M0.75,0A0.75,1 0 1,1 -0.75,0A0.75,1 0 1,1 0.75,0Z","circle","square","diamond","circle","triangle-up","circle"]}},
               "fill": {"field": "series", "type": "nominal", "legend": null, "scale": {"domain": ["Control/LN5","Control/NC","CD151KD/NC","CD151KD/LN5","Mock","Control siR","CD151 siR","α3 siR","α6 siR"], "range": ["black","black","white","white","black","black","white","black","black"]}},
               "size": {"field": "series", "type": "nominal", "legend": null, "scale": {"domain": ["Control/LN5","Control/NC","CD151KD/NC","CD151KD/LN5","Mock","Control siR","CD151 siR","α3 siR","α6 siR"], "range": [170,85,81,256,121,150,150,170,140]}}
             }},
            {"data": {"values": [{}]}, "mark": {"type": "rule", "color": "black", "strokeWidth": 1.5, "clip": false},
             "encoding": {"x": {"datum": 0.37}, "x2": {"datum": 0.67}, "y": {"datum": -6}, "y2": {"datum": 6}}},
            {"data": {"values": [{"label": "ZR75"}]}, "mark": {"type": "text", "align": "left", "baseline": "alphabetic", "fontSize": 19, "fontWeight": "bold", "font": "Liberation Sans", "color": "black"},
             "encoding": {"x": {"datum": -0.22}, "y": {"datum": 14.3}, "text": {"field": "label"}}},
            {"data": {"values": [{"label": "B"}]}, "mark": {"type": "text", "align": "left", "baseline": "alphabetic", "fontSize": 27, "fontWeight": "bold", "font": "Liberation Sans", "color": "black", "clip": false},
             "encoding": {"x": {"datum": -2.65}, "y": {"datum": 95.5}, "text": {"field": "label"}}},
            {"data": {"values": []},
             "mark": {"type": "point", "filled": true, "color": "black", "opacity": 1, "strokeWidth": 0},
             "encoding": {
               "x": {"field": "i", "type": "quantitative"},
               "y": {"field": "pct", "type": "quantitative"},
               "shape": {"field": "series", "type": "nominal",
                         "scale": {"domain": ["Mock","Control siR","CD151 siR","α3 siR","α6 siR"],
                                   "range": [
                                     "M-1,-0.06H1V0.06H-1Z M-0.4,-0.4H0.4V0.4H-0.4Z",
                                     "M-1,-0.06H1V0.06H-1Z M-0.48,0L0,-0.48L0.48,0L0,0.48Z",
                                     "M-1,-0.06H-0.45V0.06H-1Z M0.45,-0.06H1V0.06H0.45Z M0.48,0A0.48,0.48 0 1,1 -0.48,0A0.48,0.48 0 1,1 0.48,0Z M0.36,0A0.36,0.36 0 1,0 -0.36,0A0.36,0.36 0 1,0 0.36,0Z",
                                     "M-1,-0.06H-0.65V0.06H-1Z M0,-0.45L0.45,0.35H-0.45Z M0.7,-0.06H0.85V0.06H0.7Z",
                                     "M-1,-0.06H-0.65V0.06H-1Z M0.44,0A0.44,0.44 0 1,1 -0.44,0A0.44,0.44 0 1,1 0.44,0Z M0.7,-0.06H0.85V0.06H0.7Z"
                                   ]},
                         "legend": {"orient": "none", "legendX": 272, "legendY": 7, "title": null,
                                    "symbolSize": 625, "clipHeight": 22.5, "rowPadding": 0, "padding": 0,
                                    "symbolStrokeWidth": 0, "symbolFillColor": "black", "symbolOpacity": 1,
                                    "labelFontSize": 18, "labelFontWeight": "bold", "labelOffset": 8, "labelColor": "black"}}
             }}
          ]
        }
      ]
    }
  ]
}
